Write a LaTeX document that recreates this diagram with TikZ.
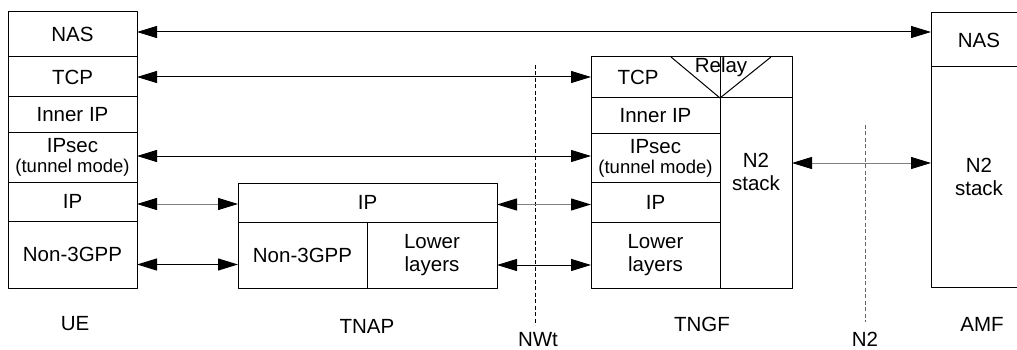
\documentclass[tikz,border=0pt]{standalone}
\usepackage{fontspec}
\setmainfont{Liberation Sans}
\usetikzlibrary{arrows.meta}
\begin{document}
\begin{tikzpicture}[x=1pt, y=-1pt, line join=round, >={Triangle[length=20pt,width=12pt,color=black]},
		font=\fontsize{20.5}{23}\selectfont,
		layer/.style={draw, line width=1pt, minimum width=129pt, inner sep=0pt, outer sep=0pt, anchor=north west, align=center},
		link/.style={<->, line width=1pt},
		glink/.style={<->, line width=1pt, draw=gray},
		cut/.style={line width=0.8pt, dash pattern=on 4pt off 2.5pt}]
				\clip (0,0) rectangle (1017,350);
				\node[layer, minimum height=45pt] (ue-nas) at (8,12) {NAS};
				\node[layer, minimum height=40pt] (ue-tcp) at (8,57) {TCP};
				\node[layer, minimum height=36pt] (ue-iip) at (8,97) {Inner IP};
				\node[layer, minimum height=49pt] (ue-ipsec) at (8,133) {IPsec\\[-3pt]{\fontsize{18.5}{20}\selectfont(tunnel mode)}};
				\node[layer, minimum height=39pt] (ue-ip) at (8,182) {IP};
				\node[layer, minimum height=67pt] (ue-n3) at (8,221) {Non-3GPP};
				\node[layer, minimum width=259pt, minimum height=39pt] (tnap-ip) at (238,183) {IP};
				\node[layer, minimum height=66pt] (tnap-n3) at (238,222) {Non-3GPP};
				\node[layer, minimum width=130pt, minimum height=66pt] (tnap-low) at (367,222) {Lower\\layers};
				\node[layer, minimum width=201pt, minimum height=231pt] (tngf) at (591,57) {};
				\node[layer, minimum height=41pt] (tngf-tcp) at (591,57) {};
				\node[layer, minimum height=36pt] (tngf-iip) at (591,98) {Inner IP};
				\node[layer, minimum height=48pt] (tngf-ipsec) at (591,134) {IPsec\\[-3pt]{\fontsize{18.5}{20}\selectfont(tunnel mode)}};
				\node[layer, minimum height=40pt] (tngf-ip) at (591,182) {IP};
				\node[layer, minimum height=66pt] (tngf-low) at (591,222) {Lower\\layers};
				\node[layer, minimum width=72pt, minimum height=190pt] (tngf-n2) at (720,98) {};
				\draw[line width=1pt] (671,57) -- (tngf-tcp.south east) -- (771,57);
				\node (tngf-tcp-txt) at (638,77) {TCP};
				\node (relay) at (721,67) {Relay};
				\node[align=center] (tngf-n2-txt) at (756,172) {N2\\stack};
				\node[layer, minimum width=96pt, minimum height=54pt] (amf-nas) at (931,13) {NAS};
				\node[layer, minimum width=96pt, minimum height=220pt] (amf-n2) at (931,67) {N2\\stack};
				\coordinate (nwt-top) at (535,65);
				\coordinate (nwt-bot) at (535,325);
				\coordinate (n2-top) at (865,125);
				\coordinate (n2-bot) at (865,322);
				\draw[cut] (nwt-top) -- (nwt-bot);
				\draw[cut, draw=gray!80!black] (n2-top) -- (n2-bot);
				\draw[link] ([yshift=2.5pt]ue-nas.east) -- ([yshift=2.5pt]ue-nas.east -| amf-nas.west);
				\draw[link] (ue-tcp.east) -- (ue-tcp.east -| tngf.west);
				\draw[link] ([yshift=1.5pt]ue-ipsec.east) -- ([yshift=1.5pt]ue-ipsec.east -| tngf.west);
				\draw[glink] ([yshift=-2.5pt]ue-ip.east) -- ([yshift=-2.5pt]ue-ip.east -| tnap-ip.west);
				\draw[link] ([yshift=-10pt]ue-n3.east) -- ([yshift=-10pt]ue-n3.east -| tnap-n3.west);
				\draw[glink] ([yshift=-2pt]tnap-ip.east) -- ([yshift=-2pt]tnap-ip.east -| tngf.west);
				\draw[link] ([yshift=-10pt]tnap-low.east) -- ([yshift=-10pt]tnap-low.east -| tngf.west);
				\draw[glink] ([yshift=30pt]tngf-n2.east) -- ([yshift=30pt]tngf-n2.east -| amf-n2.west);
				\node (ue) at (75,324) {UE};
				\node (tnap) at (367,326) {TNAP};
				\node (tngf-name) at (702,324) {TNGF};
				\node (amf) at (982,324) {AMF};
				\node (nwt) at (538,340) {NWt};
				\node (n2) at (865,339) {N2};
			\end{tikzpicture}
\end{document}
